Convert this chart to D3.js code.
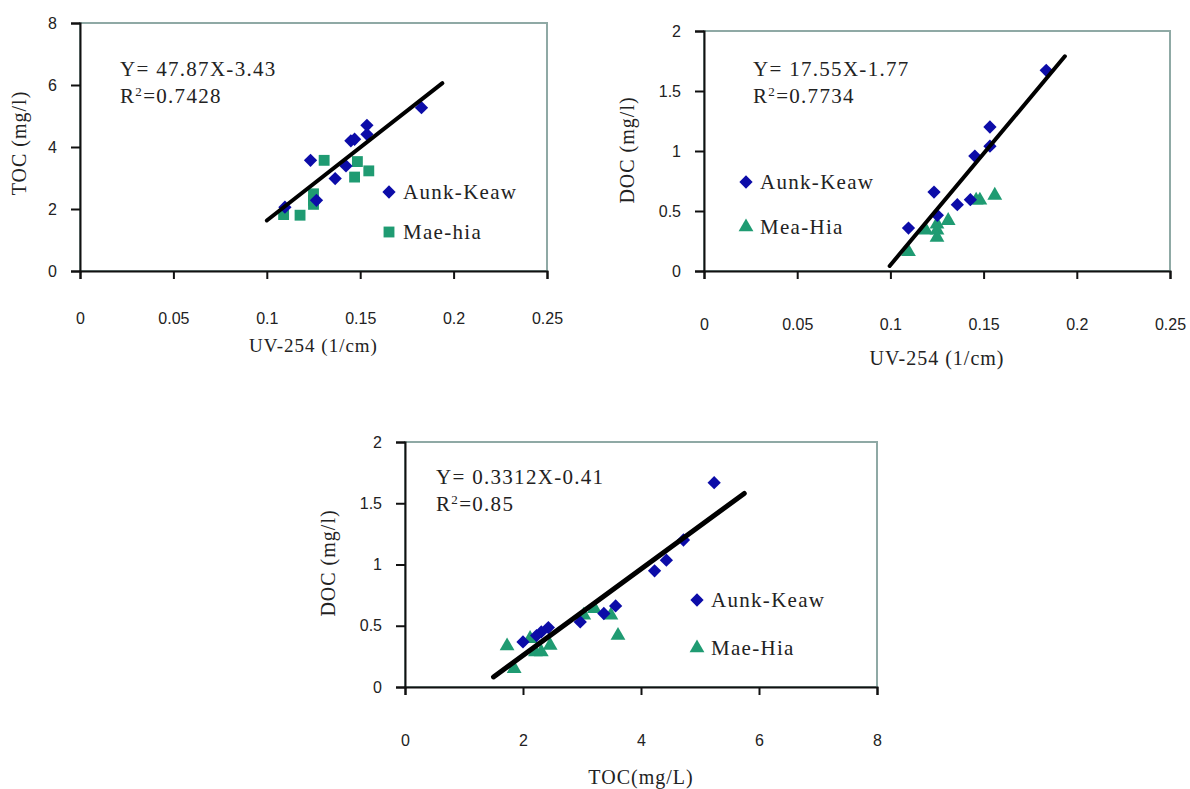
<!DOCTYPE html>
<html>
<head>
<meta charset="utf-8">
<script src="https://cdn.jsdelivr.net/npm/d3@7"></script>
<style>
  body { margin: 0; background: #fff; }
  .tick text { font-family: "Liberation Sans", Arial, sans-serif; font-size: 16px; fill: #222; }
  .serif { font-family: "Liberation Serif", "Times New Roman", serif; fill: #222; }
</style>
</head>
<body>
<div id="chart"></div>
<script>
// Chart 1: TOC vs UV-254
var uvAunk = [0.1828, 0.1536, 0.1536, 0.145, 0.147, 0.1234, 0.1424, 0.1366, 0.1266, 0.1097];
var tocAunk = [5.27, 4.70, 4.41, 4.20, 4.25, 3.57, 3.39, 2.98, 2.28, 2.06];
var uvMae = [0.1307, 0.1485, 0.147, 0.1546, 0.125, 0.125, 0.125, 0.1178, 0.109];
var tocMae = [3.57, 3.53, 3.03, 3.23, 2.49, 2.28, 2.15, 1.80, 1.82];
var trend1X = [0.1, 0.194];
var trend1Y = [1.63, 6.06];

// Chart 2: DOC vs UV-254
var uv2Aunk = [0.1836, 0.1534, 0.1534, 0.1453, 0.1234, 0.1429, 0.1359, 0.1252, 0.1097];
var docAunk = [1.672, 1.20, 1.04, 0.958, 0.658, 0.594, 0.553, 0.464, 0.358];
var uv2Mea = [0.156, 0.146, 0.148, 0.131, 0.125, 0.125, 0.125, 0.119, 0.1097];
var docMea = [0.63, 0.59, 0.59, 0.42, 0.39, 0.34, 0.28, 0.34, 0.16];
var trend2X = [0.0996, 0.1936];
var trend2Y = [0.042, 1.789];

// Chart 3: DOC vs TOC
var toc3Aunk = [5.24, 4.72, 4.43, 4.23, 3.57, 3.37, 2.97, 2.43, 2.31, 2.23, 2.0];
var doc3Aunk = [1.668, 1.20, 1.035, 0.948, 0.662, 0.60, 0.531, 0.485, 0.45, 0.42, 0.368];
var toc3Mae = [1.73, 2.12, 2.21, 2.31, 2.46, 1.85, 3.03, 3.21, 3.49, 3.61];
var doc3Mae = [0.335, 0.395, 0.286, 0.286, 0.34, 0.15, 0.586, 0.64, 0.586, 0.42];
var trend3X = [1.5, 5.75];
var trend3Y = [0.082, 1.58];

var uvTicks = [0, 0.05, 0.1, 0.15, 0.2, 0.25];
var tocTicks = [0, 2, 4, 6, 8];
var docTicks = [0, 0.5, 1, 1.5, 2];

var blue = "#0c0ca8";
var green = "#1f9b72";

var svg = d3.select("#chart").append("svg").attr("width", 1190).attr("height", 789);

var diamond = d3.symbol().type(d3.symbolSquare).size(88);
var square = d3.symbol().type(d3.symbolSquare).size(118);
var triangle = d3.symbol().type(d3.symbolTriangle).size(95);

function zip(a, b) { return a.map((v, i) => [v, b[i]]); }

function drawPanel(p) {
  var x = d3.scaleLinear().domain(p.xDomain).range([p.left, p.right]);
  var y = d3.scaleLinear().domain(p.yDomain).range([p.bottom, p.top]);
  var g = svg.append("g");

  // plot box (grey top/right border)
  g.append("rect")
    .attr("x", p.left).attr("y", p.top)
    .attr("width", p.right - p.left).attr("height", p.bottom - p.top)
    .attr("fill", "none").attr("stroke", "#8fa9a5").attr("stroke-width", 2);

  // x axis: ticks down, labels placed far below
  var xAxis = g.append("g").attr("transform", `translate(0,${p.bottom})`)
    .call(d3.axisBottom(x).tickValues(p.xTicks).tickSize(8).tickPadding(p.xPad).tickFormat(p.xFmt));
  xAxis.select(".domain").attr("stroke", "#111").attr("stroke-width", 2);
  xAxis.selectAll(".tick line").attr("stroke", "#111").attr("stroke-width", 2);

  var yAxis = g.append("g").attr("transform", `translate(${p.left},0)`)
    .call(d3.axisLeft(y).tickValues(p.yTicks).tickSize(9).tickPadding(14).tickFormat(d3.format("")));
  yAxis.select(".domain").attr("stroke", "#111").attr("stroke-width", 2);
  yAxis.selectAll(".tick line").attr("stroke", "#111").attr("stroke-width", 2);

  // markers: second series drawn first, then the diamonds
  g.selectAll(".s2").data(zip(p.x2, p.y2)).enter().append("path")
    .attr("d", p.sym2 === "square" ? square : triangle)
    .attr("transform", d => `translate(${x(d[0])},${y(d[1])})`)
    .attr("fill", green);
  g.selectAll(".s1").data(zip(p.x1, p.y1)).enter().append("path")
    .attr("d", diamond)
    .attr("transform", d => `translate(${x(d[0])},${y(d[1])}) rotate(45)`)
    .attr("fill", blue);

  // trend line
  g.append("line")
    .attr("x1", x(p.tx[0])).attr("y1", y(p.ty[0]))
    .attr("x2", x(p.tx[1])).attr("y2", y(p.ty[1]))
    .attr("stroke", "#000").attr("stroke-width", p.lw).attr("stroke-linecap", "round");

  // equation text
  var eq = g.append("text").attr("class", "serif")
    .attr("x", p.eqX).attr("y", p.eqY).attr("font-size", 21).attr("letter-spacing", 1.3);
  eq.text(p.eq);
  var r2 = g.append("text").attr("class", "serif")
    .attr("x", p.eqX).attr("y", p.eqY + 27).attr("font-size", 21).attr("letter-spacing", 1.3);
  r2.append("tspan").text("R");
  r2.append("tspan").attr("font-size", 13).attr("dy", -7).text("2");
  r2.append("tspan").attr("dy", 7).text("=" + p.r2);

  // legend
  g.append("path").attr("d", diamond)
    .attr("transform", `translate(${p.legX},${p.legY}) rotate(45)`).attr("fill", blue);
  g.append("text").attr("class", "serif").attr("x", p.legX + 14).attr("y", p.legY + 7)
    .attr("font-size", 21).attr("letter-spacing", 1.3).text("Aunk-Keaw");
  g.append("path").attr("d", p.sym2 === "square" ? square : triangle)
    .attr("transform", `translate(${p.legX},${p.legY + p.legGap})`).attr("fill", green);
  g.append("text").attr("class", "serif").attr("x", p.legX + 14).attr("y", p.legY + p.legGap + 7)
    .attr("font-size", 21).attr("letter-spacing", 1.3).text(p.name2);

  // axis titles
  g.append("text").attr("class", "serif")
    .attr("x", (p.left + p.right) / 2).attr("y", p.xLabY)
    .attr("text-anchor", "middle").attr("font-size", p.xLabSize).attr("letter-spacing", 1)
    .text(p.xLab);
  g.append("text").attr("class", "serif")
    .attr("transform", `translate(${p.yLabX},${p.yLabY}) rotate(-90)`)
    .attr("text-anchor", "middle").attr("font-size", 20).attr("letter-spacing", 1)
    .text(p.yLab);
}

drawPanel({
  left: 80, right: 547, top: 23, bottom: 271,
  xDomain: [0, 0.25], yDomain: [0, 8], xTicks: uvTicks, yTicks: tocTicks,
  xFmt: d3.format(""), xPad: 34,
  x1: uvAunk, y1: tocAunk, x2: uvMae, y2: tocMae, sym2: "square", name2: "Mae-hia",
  tx: trend1X, ty: trend1Y, lw: 4,
  eq: "Y= 47.87X-3.43", r2: "0.7428", eqX: 120, eqY: 76,
  legX: 389, legY: 192, legGap: 40,
  xLab: "UV-254 (1/cm)", xLabY: 352, xLabSize: 19,
  yLab: "TOC (mg/l)", yLabX: 26, yLabY: 143
});

drawPanel({
  left: 704, right: 1170, top: 31, bottom: 271,
  xDomain: [0, 0.25], yDomain: [0, 2], xTicks: uvTicks, yTicks: docTicks,
  xFmt: d3.format(""), xPad: 40,
  x1: uv2Aunk, y1: docAunk, x2: uv2Mea, y2: docMea, sym2: "triangle", name2: "Mea-Hia",
  tx: trend2X, ty: trend2Y, lw: 4,
  eq: "Y= 17.55X-1.77", r2: "0.7734", eqX: 753, eqY: 76,
  legX: 746, legY: 182, legGap: 45,
  xLab: "UV-254 (1/cm)", xLabY: 365, xLabSize: 20,
  yLab: "DOC (mg/l)", yLabX: 634, yLabY: 150
});

drawPanel({
  left: 405, right: 877, top: 442, bottom: 687,
  xDomain: [0, 8], yDomain: [0, 2], xTicks: tocTicks, yTicks: docTicks,
  xFmt: d3.format(""), xPad: 40,
  x1: toc3Aunk, y1: doc3Aunk, x2: toc3Mae, y2: doc3Mae, sym2: "triangle", name2: "Mae-Hia",
  tx: trend3X, ty: trend3Y, lw: 5,
  eq: "Y= 0.3312X-0.41", r2: "0.85", eqX: 436, eqY: 484,
  legX: 697, legY: 600, legGap: 48,
  xLab: "TOC(mg/L)", xLabY: 784, xLabSize: 20,
  yLab: "DOC (mg/l)", yLabX: 335, yLabY: 563
});
</script>
</body>
</html>
